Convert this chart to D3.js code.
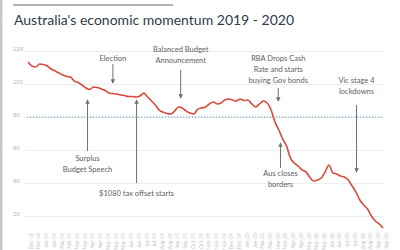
<!DOCTYPE html>
<html>
<head>
<meta charset="utf-8">
<script src="https://cdn.jsdelivr.net/npm/d3@7"></script>
<style>
  body { margin: 0; background: #fff; }
  svg { display: block; font-family: Lato, "Open Sans", sans-serif; }
  .grid line { stroke: #ececec; }
  .ylab text { fill: #b5b5b5; font-size: 6px; }
  .xlab text { fill: #c4c4c4; font-size: 5px; }
  .note { fill: #5e5e5e; font-size: 7.5px; }
</style>
</head>
<body>
<div id="chart"></div>
<script>
var width = 400,
  height = 250;

// weekly readings, starting Friday 14 Dec 2018
var startWeek = "2018-12-14";
var momentum = [
  113.3, 110.9, 110.3, 112.1, 111.8, 110.9, 109.1, 107.9, 106.7, 105.5,
  104.5, 104.2, 101.8, 100.9, 99.4, 97.6, 96.7, 98.2, 97.9, 97.0,
  96.1, 94.5, 94.2, 93.9, 93.3, 93.0, 92.4, 92.4, 92.1, 92.7,
  94.5, 92.1, 89.7, 87.3, 84.2, 83.0, 82.1, 81.8, 83.6, 86.1,
  85.5, 83.6, 82.4, 81.8, 84.8, 85.5, 86.1, 87.9, 89.1, 87.9,
  88.5, 90.3, 90.9, 90.3, 89.7, 90.9, 90.0, 90.3, 87.9, 86.1,
  87.9, 89.7, 88.5, 84.2, 77.0, 72.1, 66.7, 62.4, 55.2, 52.1,
  50.3, 47.9, 46.7, 43.6, 41.2, 41.8, 43.0, 46.7, 50.9, 46.1,
  45.5, 44.2, 43.6, 41.8, 38.2, 34.5, 29.7, 26.7, 24.2, 20.0,
  17.0, 15.2, 12.7
];
var referenceLevel = 80;
var yTicks = [20, 40, 60, 80, 100, 120];
var chartTitle = "Australia's economic momentum 2019 - 2020";

var noteDates = ["2019-04-01", "2019-05-17", "2019-06-29", "2019-09-17", "2020-03-12", "2020-03-16", "2020-08-01"];
var noteLines = [
  ["Surplus", "Budget Speech"],
  ["Election"],
  ["$1080 tax offset starts"],
  ["Balanced Budget", "Announcement"],
  ["RBA Drops Cash", "Rate and starts", "buying Gov bonds"],
  ["Aus closes", "borders"],
  ["Vic stage 4", "lockdowns"]
];

// layout for each note: first text line y, arrow from/to
var noteLayout = [
  { ty: 161, a1: 151, a2: 100 },
  { ty: 61, a1: 64, a2: 83 },
  { ty: 196, a1: 183, a2: 100 },
  { ty: 52, a1: 70, a2: 98 },
  { ty: 61, a1: 88, a2: 101 },
  { ty: 176, a1: 168, a2: 143 },
  { ty: 83, a1: 105, a2: 172 }
];

var parse = d3.timeParse("%Y-%m-%d");
var t0 = parse(startWeek);
var data = momentum.map(function(v, i) {
  return { date: d3.timeDay.offset(t0, i * 7), value: v };
});

var x = d3.scaleTime()
  .domain(d3.extent(data, function(d) { return d.date; }))
  .range([28, 383]);

var y = d3.scaleLinear()
  .domain([0, 120])
  .range([249, 51]);

var svg = d3.select("#chart").append("svg")
  .attr("width", width)
  .attr("height", height);

svg.append("defs").append("marker")
  .attr("id", "head")
  .attr("viewBox", "0 0 6 6")
  .attr("refX", 5).attr("refY", 3)
  .attr("markerWidth", 4.5).attr("markerHeight", 4.5)
  .attr("markerUnits", "userSpaceOnUse")
  .attr("orient", "auto")
  .append("path")
  .attr("d", "M0,0L6,3L0,6z")
  .attr("fill", "#6e6e6e");

// frame bits
svg.append("rect").attr("x", 0).attr("y", 0).attr("width", 2.5).attr("height", height).attr("fill", "#c8c8c8");
svg.append("line").attr("x1", 13).attr("x2", 173).attr("y1", 5).attr("y2", 5)
  .attr("stroke", "#9a9a9a").attr("stroke-width", 1.3);

svg.append("text")
  .attr("x", 14).attr("y", 25)
  .attr("fill", "#2f3a4b")
  .style("font-size", "14px")
  .text(chartTitle);

// gridlines
svg.append("g")
  .attr("class", "grid")
  .attr("transform", "translate(24,0)")
  .call(d3.axisRight(y).tickValues(yTicks).tickSize(360).tickFormat(""))
  .call(function(g) { g.select(".domain").remove(); });

// y labels sit above their gridline
svg.append("g")
  .attr("class", "ylab")
  .attr("transform", "translate(13,0)")
  .call(d3.axisRight(y).tickValues(yTicks).tickSize(0).tickPadding(0))
  .call(function(g) { g.select(".domain").remove(); })
  .selectAll("text").attr("dy", "-0.15em");

// x labels, every other week, rotated
svg.append("g")
  .attr("class", "xlab")
  .selectAll("text")
  .data(data.filter(function(d, i) { return i % 2 === 0; }))
  .enter().append("text")
  .attr("transform", function(d) { return "translate(" + (x(d.date) + 3) + ",233) rotate(-90)"; })
  .attr("dy", "0.35em")
  .style("text-anchor", "end")
  .text(function(d) { return d3.timeFormat("%b-%y")(d.date); });

// reference level
svg.append("line")
  .attr("x1", 27).attr("x2", 384)
  .attr("y1", y(referenceLevel)).attr("y2", y(referenceLevel))
  .attr("stroke", "#4f93c9")
  .attr("stroke-width", 1.2)
  .attr("stroke-dasharray", "1.2,1.8");

var line = d3.line()
  .x(function(d) { return x(d.date); })
  .y(function(d) { return y(d.value); })
  .curve(d3.curveMonotoneX);

svg.append("path")
  .datum(data)
  .attr("fill", "none")
  .attr("stroke", "#d9493d")
  .attr("stroke-width", 1.6)
  .attr("stroke-linejoin", "round")
  .attr("d", line);

// annotations
noteLines.forEach(function(lines, i) {
  var nx = x(parse(noteDates[i])),
    lay = noteLayout[i];
  var g = svg.append("g");
  g.append("line")
    .attr("x1", nx).attr("x2", nx)
    .attr("y1", lay.a1).attr("y2", lay.a2)
    .attr("stroke", "#6e6e6e")
    .attr("stroke-width", 1)
    .attr("marker-end", "url(#head)");
  g.selectAll("text")
    .data(lines)
    .enter().append("text")
    .attr("class", "note")
    .attr("x", nx)
    .attr("y", function(d, j) { return lay.ty + j * 11; })
    .style("text-anchor", "middle")
    .text(function(d) { return d; });
});
</script>
</body>
</html>
